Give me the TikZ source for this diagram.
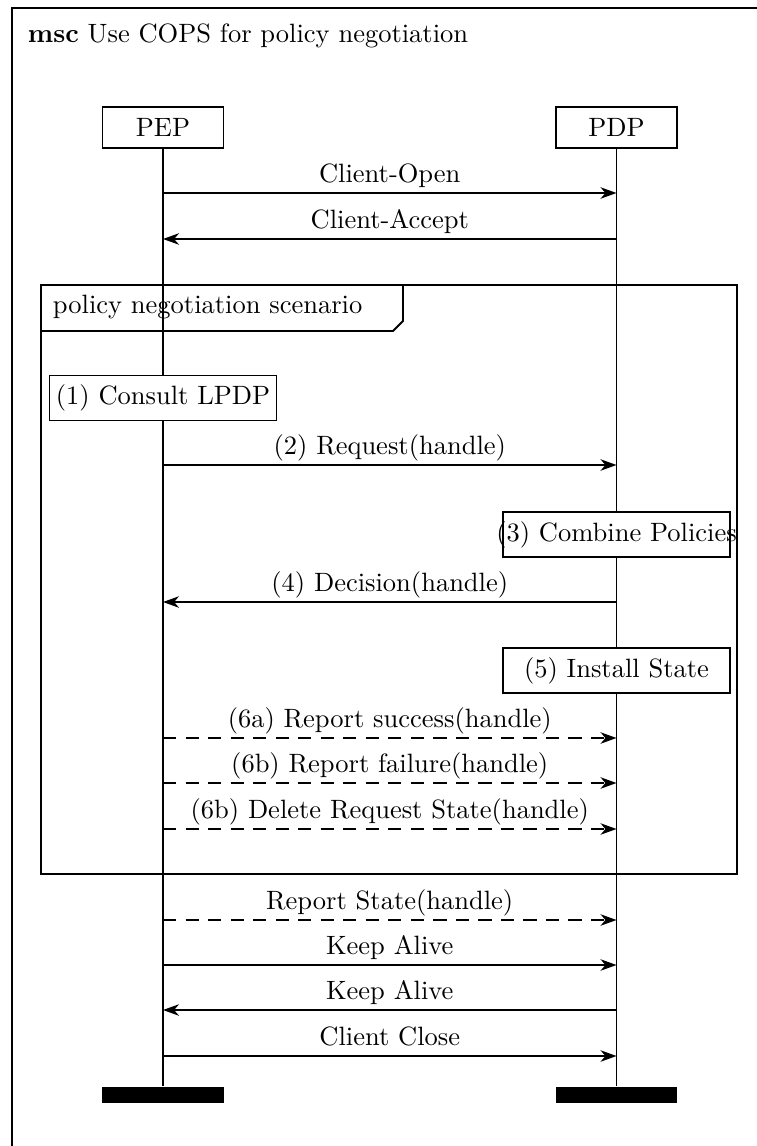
\documentclass[tikz,border=0pt]{standalone}
\usetikzlibrary{arrows.meta}
\begin{document}
\begin{tikzpicture}[x=0.3774pt,y=-0.3774pt,
  line width=0.7pt,
  inst/.style={draw, fill=white, minimum width=45.7pt, minimum height=15.5pt, inner sep=0pt},
  act/.style={draw, fill=white, minimum width=85.7pt, minimum height=17pt, inner sep=0pt},
  msgline/.style={-{Stealth[length=6pt,width=4.3pt,inset=1.8pt]}},
  reply/.style={msgline, dash pattern=on 5pt off 3.5pt},
  lbl/.style={anchor=base, inner sep=0pt, yshift=3.8pt},
  endbar/.style={fill=black, draw=none, minimum width=46pt, minimum height=6pt, inner sep=0pt, anchor=north}]

\useasboundingbox (0,0) rectangle (757,1146);

% msc frame (runs past the page on the right and bottom)
\draw (12,1146) -- (12,8) -- (757,8);
\node[anchor=base west, inner sep=0pt] (title) at (27,42)
  {\textbf{msc} Use COPS for policy negotiation};

% instances and their end bars
\node[inst] (pep) at (163,127.5) {PEP};
\node[inst] (pdp) at (616.5,127.5) {PDP};
\node[endbar] (pepbar) at (163,1086) {};
\node[endbar] (pdpbar) at (616.5,1086) {};
\draw (pep.south) -- (pepbar.north);
\draw (pdp.south) -- (pdpbar.north);

% inline expression
\draw (41,285) rectangle (737,874);
\draw (41,331) -- (393,331) -- (403,321) -- (403,285);
\node[anchor=base west, inner sep=0pt] (scen) at (52,313) {policy negotiation scenario};

% local actions
\node[act] (a1) at (163,398) {\makebox[0pt][c]{(1) Consult LPDP}};
\node[act] (a3) at (616.5,534.5) {\makebox[0pt][c]{(3) Combine Policies}};
\node[act] (a5) at (616.5,670.5) {\makebox[0pt][c]{(5) Install State}};

% message anchor points on the lifelines
\foreach \n/\y in {m1/193, m2/239, m3/465, m4/602, m5/738, m6/783, m7/829,
                   m8/920, m9/965, m10/1010, m11/1056} {
  \coordinate (pep-\n) at (163,\y);
  \coordinate (pdp-\n) at (616.5,\y);
}

% messages
\draw[msgline] (pep-m1) -- node[lbl] (l1) {Client-Open} (pdp-m1);
\draw[msgline] (pdp-m2) -- node[lbl] (l2) {Client-Accept} (pep-m2);
\draw[msgline] (pep-m3) -- node[lbl] (l3) {(2) Request(handle)} (pdp-m3);
\draw[msgline] (pdp-m4) -- node[lbl] (l4) {(4) Decision(handle)} (pep-m4);
\draw[reply] (pep-m5) -- node[lbl] (l5) {(6a) Report success(handle)} (pdp-m5);
\draw[reply] (pep-m6) -- node[lbl] (l6) {(6b) Report failure(handle)} (pdp-m6);
\draw[reply] (pep-m7) -- node[lbl] (l7) {(6b) Delete Request State(handle)} (pdp-m7);
\draw[reply] (pep-m8) -- node[lbl] (l8) {Report State(handle)} (pdp-m8);
\draw[msgline] (pep-m9) -- node[lbl] (l9) {Keep Alive} (pdp-m9);
\draw[msgline] (pdp-m10) -- node[lbl] (l10) {Keep Alive} (pep-m10);
\draw[msgline] (pep-m11) -- node[lbl] (l11) {Client Close} (pdp-m11);
\end{tikzpicture}
\end{document}
